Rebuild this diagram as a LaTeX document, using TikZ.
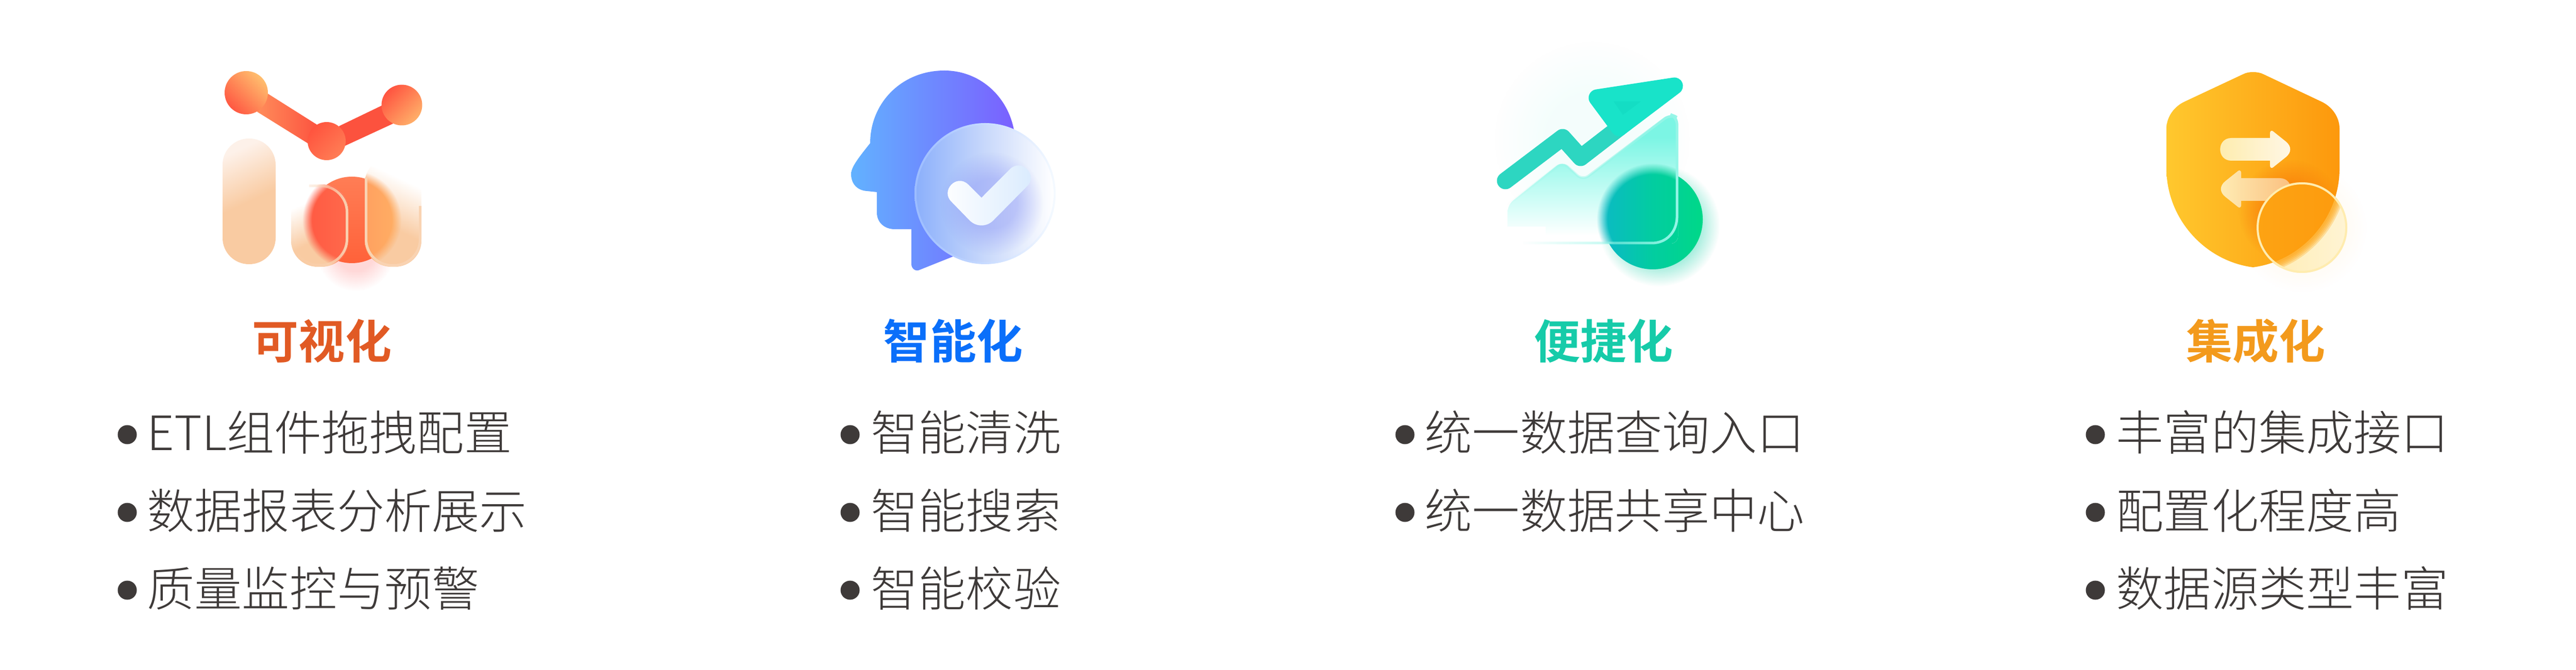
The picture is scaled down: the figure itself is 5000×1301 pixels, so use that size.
\documentclass[tikz,border=0pt]{standalone}
\usepackage{fontspec}
\usetikzlibrary{fadings}
\setmainfont{Noto Sans CJK SC Light}
\newfontfamily\titlefont{Noto Sans CJK SC Bold}
\definecolor{txt}{HTML}{3E3A39}
\definecolor{ctitleA}{HTML}{E15A24}
\definecolor{ctitleB}{HTML}{0A6FFA}
\definecolor{ctitleC}{HTML}{16CBA9}
\definecolor{ctitleD}{HTML}{F39A1C}
\definecolor{barA}{HTML}{F9CBA2}
\definecolor{barB}{HTML}{FDF1E9}
\definecolor{rimA}{HTML}{F9D3B2}
\pgfdeclareradialshading{blurshadeA}{\pgfpointorigin}{color(0bp)=(white); color(20bp)=(white); color(25bp)=(black); color(50bp)=(black)}
\pgfdeclarefading{blurdisc}{\pgfuseshading{blurshadeA}}
\pgfdeclareradialshading{glowshade}{\pgfpointorigin}{color(0bp)=(white); color(12bp)=(white); color(25bp)=(black); color(50bp)=(black)}
\pgfdeclarefading{glowdisc}{\pgfuseshading{glowshade}}
\tikzfading[name=rimfade,left color=transparent!100,right color=transparent!0]
\pgfdeclareverticalshading{glassbar}{100bp}{color(0bp)=(barA); color(50bp)=(barA); color(75bp)=(barB); color(100bp)=(barB)}
\pgfdeclareverticalshading{glassbarB}{100bp}{color(0bp)=(barA); color(42bp)=(barA); color(68bp)=(white); color(100bp)=(white)}
\definecolor{tA}{HTML}{7CF5E4}
\definecolor{tB}{HTML}{CDFDF6}
\pgfdeclareverticalshading{tealglass}{100bp}{color(0bp)=(white); color(28bp)=(white); color(42bp)=(tB); color(65bp)=(tA); color(100bp)=(tA)}
\tikzset{
  bodytext/.style={anchor=base west,inner sep=0pt,text=txt,font=\fontsize{26.2}{30}\selectfont},
  titletext/.style={anchor=base,inner sep=0pt,font=\titlefont\fontsize{25.6}{30}\selectfont},
  bulletdot/.style={circle,fill=txt,inner sep=0pt,minimum size=0.37cm}
}
\begin{document}
\begin{tikzpicture}[x=0.01cm,y=-0.01cm]
\useasboundingbox (0,0) rectangle (5000,1301);
\fill[white] (0,0) rectangle (5000,1301);

% ---------- icon 1
\fill[color=red!30!white,path fading=glowdisc,opacity=0.5] (690,490) circle[radius=75];
\shade[left color={rgb,255:red,255;green,140;blue,90},right color={rgb,255:red,252;green,84;blue,64}]
  (520,182)--(615,242)--(597,278)--(499,217)--cycle;
\fill[color={rgb,255:red,252;green,82;blue,62}] (658,245)--(741,205)--(763,240)--(670,283)--cycle;
\shade[left color={rgb,255:red,255;green,190;blue,110},right color={rgb,255:red,255;green,88;blue,66},shading angle=-45] (478,180) circle[radius=42];
\shade[left color={rgb,255:red,255;green,84;blue,64},right color={rgb,255:red,255;green,175;blue,105},shading angle=45] (780,204) circle[radius=39.5];
\shade[left color={rgb,255:red,255;green,84;blue,62},right color={rgb,255:red,255;green,125;blue,85},shading angle=45] (634,274) circle[radius=37];
\shade[top color={rgb,255:red,255;green,125;blue,85},bottom color={rgb,255:red,255;green,98;blue,58}] (683,427) circle[radius=84];
\shade[shading=glassbar,shading angle=25,rounded corners=0.51cm] (432,269) rectangle (535,513);
% bar 2
\begin{scope}
\clip[rounded corners=0.51cm] (565,358) rectangle (676,518);
\shade[shading=glassbarB,shading angle=25] (565,358) rectangle (676,518);
\shade[left color={rgb,255:red,255;green,88;blue,66},right color={rgb,255:red,255;green,125;blue,85},path fading=blurdisc] (683,427) circle[radius=96];
\end{scope}
\draw[rimA,line width=0.05cm,path fading=rimfade,rounded corners=0.51cm] (568,430)--(568,515)--(673.5,515)--(673.5,361)--(600,361);
% bar 3
\begin{scope}
\clip[rounded corners=0.51cm] (708,305) rectangle (818,518);
\shade[shading=glassbarB,shading angle=-25] (708,305) rectangle (818,518);
\shade[left color={rgb,255:red,255;green,135;blue,90},right color={rgb,255:red,255;green,176;blue,100},path fading=blurdisc] (683,427) circle[radius=96];
\end{scope}
\draw[rimA,line width=0.05cm,rounded corners=0.51cm] (710.5,345)--(710.5,515.5)--(815.5,515.5)--(815.5,400);

% ---------- icon 2
\shade[left color={rgb,255:red,98;green,178;blue,255},right color={rgb,255:red,122;green,96;blue,255}]
  (1689,278) .. controls (1665,308) and (1652,325) .. (1652,338)
  .. controls (1652,358) and (1665,370) .. (1683,371) -- (1702,373) -- (1702,413)
  .. controls (1702,432) and (1717,445) .. (1736,445) -- (1769,445) -- (1769,513)
  .. controls (1769,522) and (1778,528) .. (1785,524) -- (1860,494) -- (1968,252)
  .. controls (1955,185) and (1900,137) .. (1833,137)
  .. controls (1750,137) and (1689,200) .. (1689,278) -- cycle;
\shade[left color={rgb,255:red,155;green,188;blue,255},right color={rgb,255:red,245;green,250;blue,255}] (1912,376) circle[radius=137];
\shade[left color={rgb,255:red,140;green,176;blue,251},right color=white,middle color={rgb,255:red,200;green,216;blue,251}] (1912,376) circle[radius=133];
\fill[color={rgb,255:red,140;green,150;blue,245},path fading=glowdisc,opacity=0.45] (1925,395) circle[radius=100];
\shade[left color=white,right color={rgb,255:red,216;green,234;blue,254}]
  (1879,358) -- (1905,384) -- (1960.6,328.2)
  .. controls (1982.8,306.6) and (2015.6,340.2) .. (1993.4,361.8)
  -- (1928,428) .. controls (1915,441) and (1895,441) .. (1882,428) -- (1847,392)
  .. controls (1824.5,370.6) and (1856.5,336.6) .. (1879,358) -- cycle;

% ---------- icon 3
\fill[color={rgb,255:red,150;green,245;blue,232},path fading=glowdisc,opacity=0.1] (3090,270) circle[radius=190];
\fill[color={rgb,255:red,0;green,205;blue,160},path fading=glowdisc,opacity=0.55] (3220,438) circle[radius=118];
\shade[left color={rgb,255:red,12;green,184;blue,200},right color={rgb,255:red,0;green,216;blue,136},middle color={rgb,255:red,2;green,205;blue,160}] (3208,426) circle[radius=97];
\draw[line width=0.33cm,line cap=round,line join=round,color={rgb,255:red,45;green,214;blue,193}] (2922,351) -- (3033,267) -- (3068,306) -- (3143,248);
\filldraw[line width=0.33cm,line join=round,color={rgb,255:red,24;green,227;blue,201}] (3250,167) -- (3100,190) -- (3143,248) -- cycle;
\fill[color={rgb,255:red,20;green,221;blue,196}] (3132,197) -- (3185,197) -- (3150,223) -- cycle;
\begin{scope}
\clip[rounded corners=0.14cm] (2926,398) -- (3033,313) -- (3072,350) -- (3242,220) -- (3257,225) -- (3257,290) -- (3257,473) -- (2926,473) -- cycle;
\shade[shading=tealglass] (2926,215) rectangle (3257,473);
\fill[white] (2926,440) rectangle (3000,480);
\shade[left color={rgb,255:red,12;green,184;blue,200},right color={rgb,255:red,0;green,216;blue,136},middle color={rgb,255:red,2;green,205;blue,160},path fading=blurdisc] (3208,426) circle[radius=109];
\end{scope}
\draw[color={rgb,255:red,150;green,246;blue,232},line width=0.05cm,path fading=rimfade,rounded corners=0.14cm] (2926,398) -- (3033,315) -- (3072,350) -- (3242,222) -- (3255,228) -- (3255,420);
\draw[color={rgb,255:red,150;green,246;blue,232},line width=0.05cm,path fading=rimfade] (3255,420) .. controls (3255,450) and (3235,472) .. (3206,472) -- (2956,472);

% ---------- icon 4
\fill[color={rgb,255:red,255;green,210;blue,130},path fading=glowdisc,opacity=0.12] (4468,442) circle[radius=125];
\def\shieldpath{(4373,140) .. controls (4380,140) and (4387,141) .. (4393,144) -- (4505,197)
  .. controls (4527,207) and (4541,228) .. (4541,250) -- (4541,327)
  .. controls (4541,425) and (4466,507) .. (4373,519)
  .. controls (4280,507) and (4205,425) .. (4205,327) -- (4205,250)
  .. controls (4205,228) and (4219,207) .. (4241,197) -- (4354,144)
  .. controls (4360,141) and (4366,140) .. (4373,140) -- cycle}
\shade[left color={rgb,255:red,255;green,200;blue,46},right color={rgb,255:red,253;green,152;blue,12}] \shieldpath;
\begin{scope}
\clip \shieldpath;
\fill[color={rgb,255:red,249;green,128;blue,10},path fading=glowdisc,opacity=0.8] (4445,410) circle[radius=100];
\end{scope}
\shade[left color={rgb,255:red,254;green,236;blue,172},right color={rgb,255:red,255;green,247;blue,230}]
  (4331,268) -- (4406,268) -- (4406,258) .. controls (4406,254) and (4410,253) .. (4412,255) -- (4437,275)
  .. controls (4448,284) and (4448,296) .. (4437,305) -- (4412,325) .. controls (4410,327) and (4406,326) .. (4406,322) -- (4406,312) -- (4331,312)
  .. controls (4302,312) and (4302,268) .. (4331,268) -- cycle;
\shade[left color={rgb,255:red,254;green,236;blue,180},right color={rgb,255:red,251;green,190;blue,125}]
  (4425,346) -- (4350,346) -- (4350,335) .. controls (4350,331) and (4346,330) .. (4344,332) -- (4319,352)
  .. controls (4308,361) and (4308,373) .. (4319,382) -- (4344,402) .. controls (4346,404) and (4350,403) .. (4350,399) -- (4350,390) -- (4425,390)
  .. controls (4454,390) and (4454,346) .. (4425,346) -- cycle;
\begin{scope}
\clip (4468,442) circle[radius=88];
\shade[left color={rgb,255:red,255;green,236;blue,175},right color={rgb,255:red,255;green,244;blue,212}] (4380,354) rectangle (4556,530);
\foreach \lw in {0.32,0.26,0.20,0.14,0.08} {
  \draw[line width=\lw cm,opacity=0.28,color={rgb,255:red,254;green,166;blue,22}] \shieldpath;
}
\shade[left color={rgb,255:red,254;green,172;blue,24},right color={rgb,255:red,253;green,155;blue,14}] \shieldpath;
\end{scope}
\draw[color={rgb,255:red,255;green,236;blue,175},line width=0.04cm] (4468,442) circle[radius=86];

% ---------- titles
\node[titletext,text=ctitleA] (t1) at (625,697) {可视化};
\node[titletext,text=ctitleB] (t2) at (1850,697) {智能化};
\node[titletext,text=ctitleC] (t3) at (3112,697) {便捷化};
\node[titletext,text=ctitleD] (t4) at (4378,697) {集成化};

% ---------- lists
\node[bulletdot] (b11) at (247,844) {};
\node[bulletdot] (b12) at (247,995) {};
\node[bulletdot] (b13) at (247,1146) {};
\node[bodytext] (l11) at (285,875) {ETL组件拖拽配置};
\node[bodytext] (l12) at (285,1026) {数据报表分析展示};
\node[bodytext] (l13) at (285,1177) {质量监控与预警};

\node[bulletdot] (b21) at (1650,844) {};
\node[bulletdot] (b22) at (1650,995) {};
\node[bulletdot] (b23) at (1650,1146) {};
\node[bodytext] (l21) at (1690,875) {智能清洗};
\node[bodytext] (l22) at (1690,1026) {智能搜索};
\node[bodytext] (l23) at (1690,1177) {智能校验};

\node[bulletdot] (b31) at (2727,844) {};
\node[bulletdot] (b32) at (2727,995) {};
\node[bodytext] (l31) at (2765,875) {统一数据查询入口};
\node[bodytext] (l32) at (2765,1026) {统一数据共享中心};

\node[bulletdot] (b41) at (4067,844) {};
\node[bulletdot] (b42) at (4067,995) {};
\node[bulletdot] (b43) at (4067,1146) {};
\node[bodytext] (l41) at (4107,875) {丰富的集成接口};
\node[bodytext] (l42) at (4107,1026) {配置化程度高};
\node[bodytext] (l43) at (4107,1177) {数据源类型丰富};
\end{tikzpicture}
\end{document}
